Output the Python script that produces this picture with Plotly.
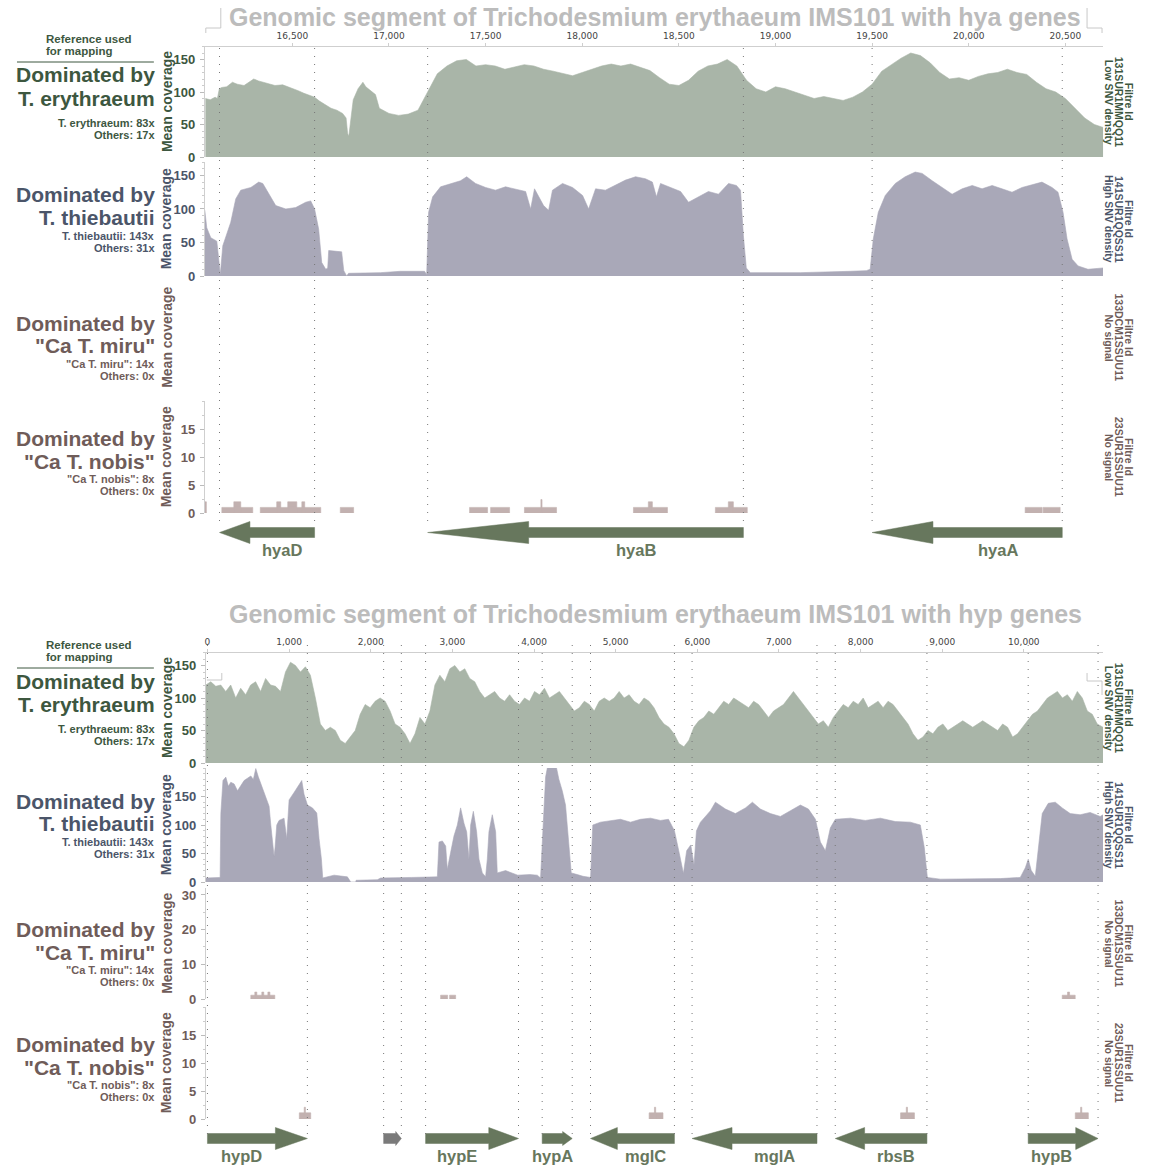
import plotly.graph_objects as go

W, H = 1153, 1166
H_FIG = 1174  # page is photographed slightly taller than the window and scaled back to 1166
FONT = "Liberation Sans, Arial, sans-serif"
TICKFONT = "DejaVu Sans, Liberation Sans, sans-serif"

C_ERY_FILL = "#a9b5a8"; C_ERY_TXT = "#3d573f"
C_THI_FILL = "#a9a8b8"; C_THI_TXT = "#4b5569"
C_CAN_FILL = "#c2b1b0"; C_CAN_TXT = "#6f5c59"
C_GENE = "#67775d"; C_GENE_GREY = "#7a7a7a"
C_TITLE = "#bcbcbc"

# ---------------- DATA ----------------
hya_ticks = [16500, 17000, 17500, 18000, 18500, 19000, 19500, 20000, 20500]
hyp_ticks = [0, 1000, 2000, 3000, 4000, 5000, 6000, 7000, 8000, 9000, 10000]

hya_gene_names = ["hyaD", "hyaB", "hyaA"]
hya_gene_start = [16123, 17200, 19500]
hya_gene_end = [16615, 18834, 20484]
hya_gene_strand = [-1, -1, -1]

hyp_gene_names = ["hypD", "", "hypE", "hypA", "mglC", "mglA", "rbsB", "hypB"]
hyp_gene_start = [0, 2158, 2672, 4100, 4692, 5936, 7690, 10053]
hyp_gene_end = [1224, 2375, 3810, 4468, 5720, 7466, 8813, 10909]
hyp_gene_strand = [1, 1, 1, 1, -1, -1, -1, 1]

# T. erythraeum coverage, hya segment
hya_ery_pos = [16050, 16075, 16100, 16112, 16122, 16135, 16160, 16190, 16215, 16250, 16275, 16300,
               16325, 16350, 16380, 16410, 16450, 16500, 16530, 16560, 16590, 16615, 16640, 16670,
               16700, 16730, 16760, 16778, 16786, 16792, 16800, 16815, 16840, 16865, 16880, 16900,
               16930, 16950, 17000, 17050, 17100, 17150, 17200, 17250, 17300, 17350, 17400, 17450,
               17500, 17550, 17600, 17650, 17700, 17750, 17800, 17850, 17900, 17950, 18000, 18050,
               18100, 18150, 18200, 18250, 18300, 18350, 18400, 18450, 18500, 18550, 18600, 18650,
               18700, 18750, 18800, 18850, 18900, 18950, 19000, 19050, 19100, 19150, 19200, 19250,
               19300, 19350, 19400, 19450, 19500, 19550, 19600, 19650, 19700, 19750, 19800, 19850,
               19900, 19950, 20000, 20050, 20100, 20150, 20200, 20250, 20300, 20350, 20400, 20450,
               20500, 20550, 20600, 20650, 20700]
hya_ery_cov = [90, 88, 92, 90, 105, 107, 108, 115, 112, 110, 115, 120,
               117, 115, 113, 110, 111, 106, 102, 98, 95, 92, 86, 80,
               75, 72, 67, 60, 36, 32, 55, 88, 105, 115, 108, 103,
               96, 75, 67, 64, 66, 72, 100, 128, 140, 148, 150, 140,
               142, 140, 135, 138, 142, 140, 135, 132, 128, 125, 130, 135,
               140, 143, 140, 143, 138, 133, 122, 112, 110, 118, 132, 140,
               143, 150, 140, 118, 105, 100, 108, 105, 100, 95, 90, 93,
               90, 87, 92, 100, 112, 132, 142, 152, 160, 156, 145, 130,
               120, 122, 118, 124, 128, 130, 135, 130, 127, 115, 105, 100,
               90, 75, 60, 50, 45]

# T. thiebautii coverage, hya segment
hya_thi_pos = [16047, 16057, 16078, 16109, 16119, 16127, 16140, 16181, 16207, 16233, 16285, 16326,
               16347, 16378, 16414, 16466, 16517, 16569, 16595, 16615, 16636, 16652, 16673, 16683,
               16688, 16755, 16766, 16781, 16791, 16957, 17060, 17184, 17195, 17205, 17226, 17267,
               17319, 17370, 17402, 17448, 17500, 17551, 17603, 17655, 17707, 17733, 17753, 17800,
               17826, 17846, 17898, 17950, 18002, 18033, 18069, 18120, 18172, 18224, 18276, 18327,
               18363, 18384, 18405, 18457, 18509, 18550, 18601, 18653, 18705, 18757, 18798, 18819,
               18834, 18849, 18870, 19128, 19387, 19470, 19490, 19506, 19532, 19568, 19620, 19671,
               19723, 19759, 19811, 19862, 19914, 19966, 20018, 20069, 20121, 20172, 20224, 20276,
               20328, 20379, 20431, 20462, 20488, 20509, 20535, 20566, 20617, 20695]
hya_thi_cov = [98, 72, 57, 52, 25, 2, 45, 80, 115, 128, 132, 140,
               138, 122, 105, 100, 102, 110, 112, 100, 70, 20, 10, 12,
               38, 36, 8, 0, 4, 5, 7, 7, 2, 95, 118, 133,
               138, 142, 148, 138, 132, 128, 133, 130, 126, 100, 130, 105,
               98, 128, 138, 132, 120, 100, 130, 128, 135, 143, 148, 145,
               140, 118, 138, 132, 126, 110, 118, 126, 122, 138, 135, 128,
               60, 12, 5, 5, 7, 8, 10, 55, 95, 120, 138, 148,
               155, 153, 142, 132, 122, 130, 135, 130, 135, 130, 125, 132,
               136, 140, 132, 125, 95, 55, 25, 15, 10, 12]

# "Ca T. nobis" coverage blocks, hya segment (start, end, height)
hya_nob_start = [16047, 16135, 16197, 16334, 16419, 16476, 16549, 16748, 17417, 17526, 17701, 17786,
                 18265, 18342, 18689, 18756, 20292, 20385]
hya_nob_end = [16055, 16295, 16233, 16647, 16440, 16523, 16564, 16817, 17510, 17624, 17867, 17792,
               18441, 18363, 18854, 18782, 20380, 20473]
hya_nob_cov = [2.0, 1.0, 2.0, 1.0, 2.0, 2.0, 2.0, 1.0, 1.0, 1.0, 1.0, 2.4,
               1.0, 2.0, 1.0, 2.0, 1.0, 1.0]

# T. erythraeum coverage, hyp segment (every ~61 bp from -20)
hyp_ery_pos = list(range(-20, 10960, 61)) + [10970]
hyp_ery_cov = [120, 125, 118, 120, 110, 120, 100, 115, 105, 120,
               125, 110, 130, 120, 118, 110, 140, 155, 150, 140,
               148, 135, 100, 60, 50, 55, 50, 35, 30, 40,
               50, 75, 90, 85, 95, 100, 95, 80, 60, 55,
               45, 30, 45, 70, 60, 80, 120, 135, 125, 145,
               150, 140, 145, 130, 125, 110, 100, 105, 110, 100,
               95, 105, 95, 90, 100, 95, 110, 105, 115, 100,
               105, 110, 100, 90, 80, 85, 95, 90, 80, 95,
               100, 95, 100, 110, 100, 105, 95, 90, 100, 95,
               85, 70, 60, 55, 45, 30, 25, 35, 55, 65,
               70, 80, 75, 85, 95, 90, 100, 95, 90, 85,
               95, 90, 80, 70, 80, 85, 90, 100, 110, 100,
               90, 80, 70, 60, 65, 55, 70, 80, 90, 85,
               95, 90, 100, 85, 90, 95, 85, 95, 90, 80,
               70, 60, 45, 35, 40, 50, 45, 55, 60, 50,
               55, 60, 65, 60, 55, 60, 65, 60, 55, 50,
               60, 55, 40, 45, 55, 65, 75, 80, 90, 100,
               105, 110, 100, 105, 95, 110, 100, 80, 75, 60,
               55]

# T. thiebautii coverage, hyp segment
hyp_thi_pos = [-20, 155, 164, 190, 225, 256, 286, 327, 368, 408, 449, 490, 531, 562, 592, 622, 653,
               714, 755, 776, 816, 828, 849,
               877, 938, 971, 1000, 1061, 1122, 1155, 1183, 1225, 1286, 1339, 1367, 1396, 1412,
               1551, 1714, 1746, 1755, 1816, 1820, 2081, 2122, 2500, 2816, 2836, 2877, 2918, 2938,
               2979, 3020, 3061, 3101, 3142, 3175, 3203, 3224, 3257, 3297, 3326, 3367, 3407, 3428,
               3448, 3489, 3530, 3550, 3652, 3800, 3950, 4040, 4080, 4113, 4142, 4163, 4276, 4305,
               4346, 4386, 4427, 4456, 4530, 4600, 4693, 4720, 4815, 4937, 5059, 5182, 5304, 5427,
               5549, 5647, 5720, 5780, 5830, 5870, 5920, 5960, 5990, 6039, 6161, 6222, 6345, 6467,
               6590, 6675, 6773, 6896, 7018, 7140, 7263, 7361, 7447, 7508, 7569, 7630, 7691, 7875,
               8058, 8242, 8426, 8609, 8732, 8781, 8818, 8977, 9711, 9956, 10018, 10054, 10091,
               10140, 10176, 10225, 10299, 10385, 10470, 10568, 10690, 10812, 10935, 10970]
hyp_thi_cov = [7, 8, 120, 178, 184, 168, 175, 172, 160, 170, 178, 182, 186, 180, 199, 185, 172,
               148, 133, 100, 45, 60, 100,
               108, 112, 76, 144, 157, 172, 178, 154, 135, 130, 121, 76, 40, 7,
               12, 9, 3, 0, 0, 3, 4, 7, 8, 9, 70, 72, 63, 22,
               52, 81, 100, 130, 103, 88, 40, 100, 124, 88, 40, 16, 9, 40,
               88, 118, 88, 16, 20, 12, 13, 12, 7, 100, 184, 200, 200, 180,
               160, 135, 70, 16, 13, 10, 8, 100, 105, 108, 110, 105, 110, 112,
               108, 110, 90, 50, 15, 55, 65, 30, 90, 105, 125, 140, 128, 120,
               130, 140, 128, 120, 115, 125, 135, 128, 110, 70, 55, 95, 110, 112,
               108, 112, 106, 105, 100, 60, 8, 5, 6, 8, 25, 40, 20,
               10, 60, 120, 138, 140, 130, 120, 118, 122, 115, 118]

# "Ca T. miru" coverage blocks, hyp segment
hyp_mir_start = [531, 580, 666, 740, 2856, 2966, 10470, 10535]
hyp_mir_end = [825, 605, 690, 765, 2942, 3040, 10629, 10560]
hyp_mir_cov = [1.1, 2.0, 2.0, 2.0, 1.1, 1.1, 1.1, 2.0]

# "Ca T. nobis" coverage blocks, hyp segment
hyp_nob_start = [1125, 1185, 5410, 5475, 8490, 8560, 10630, 10695]
hyp_nob_end = [1265, 1200, 5580, 5490, 8660, 8575, 10790, 10710]
hyp_nob_cov = [1.1, 2.1, 1.1, 2.1, 1.1, 2.1, 1.1, 2.1]

# ---------------- LAYOUT CONSTANTS ----------------
def px(x):
    return x / W


def py(y):
    return 1 - y / H


ROWS_PX = [(46.5, 157), (162, 276), (282, 393), (401, 513)]
GENE_PX = (518, 560)
GENE_RANGE = [-27.5, 14.5]

sections = [
    dict(title="Genomic segment of Trichodesmium erythaeum IMS101 with hya genes", ty=17,
         xr=[16047, 20695], xdom=(204, 1103), dy=0, ticks=hya_ticks,
         yr=[170, 170, 32, 20],
         genes=(hya_gene_names, hya_gene_start, hya_gene_end, hya_gene_strand),
         dots=(48, 524),
         data=[("area", hya_ery_pos, hya_ery_cov, C_ERY_FILL),
               ("area", hya_thi_pos, hya_thi_cov, C_THI_FILL),
               None,
               ("blocks", hya_nob_start, hya_nob_end, hya_nob_cov)]),
    dict(title="Genomic segment of Trichodesmium erythaeum IMS101 with hyp genes", ty=614,
         xr=[-20, 10970], xdom=(205, 1103), dy=606, ticks=hyp_ticks,
         yr=[170, 200, 32, 20],
         genes=(hyp_gene_names, hyp_gene_start, hyp_gene_end, hyp_gene_strand),
         dots=(645, 1134),
         data=[("area", hyp_ery_pos, hyp_ery_cov, C_ERY_FILL),
               ("area", hyp_thi_pos, hyp_thi_cov, C_THI_FILL),
               ("blocks", hyp_mir_start, hyp_mir_end, hyp_mir_cov),
               ("blocks", hyp_nob_start, hyp_nob_end, hyp_nob_cov)]),
]

ROW_TXT = [C_ERY_TXT, C_THI_TXT, C_CAN_TXT, C_CAN_TXT]
ROW_TICKS = [[0, 50, 100, 150], [0, 50, 100, 150], [0, 10, 20, 30], [0, 5, 10, 15]]
ROW_MINOR = [10, 10, 5, 2.5]
BIG, SMALL = 21, 11
ROW_LABELS = [
    [("Dominated by", BIG, 75), ("T. erythraeum", BIG, 98), ("T. erythraeum: 83x", SMALL, 123), ("Others: 17x", SMALL, 134.5)],
    [("Dominated by", BIG, 195), ("T. thiebautii", BIG, 217.5), ("T. thiebautii: 143x", SMALL, 236), ("Others: 31x", SMALL, 247.5)],
    [("Dominated by", BIG, 323.5), ("\"Ca T. miru\"", BIG, 346), ("\"Ca T. miru\": 14x", SMALL, 364), ("Others: 0x", SMALL, 376)],
    [("Dominated by", BIG, 438.5), ("\"Ca T. nobis\"", BIG, 461), ("\"Ca T. nobis\": 8x", SMALL, 479), ("Others: 0x", SMALL, 491)],
]
RIGHT_LABELS = [
    ["Filtre Id", "131SUR1MMQQ11", "Low SNV density"],
    ["Filtre Id", "141SUR1QQSS11", "High SNV density"],
    ["Filtre Id", "133DCM1SSUU11", "No signal"],
    ["Filtre Id", "23SUR1SSUU11", "No signal"],
]

fig = go.Figure()
layout = dict(width=W, height=H_FIG, margin=dict(l=0, r=0, t=0, b=0),
              paper_bgcolor="white", plot_bgcolor="white", showlegend=False)
annotations = []
shapes = []


def bfont(size, color):
    return dict(family=FONT, size=size, color=color, weight="bold")


for s, sec in enumerate(sections):
    dy = sec["dy"]
    x0, x1 = sec["xdom"]
    annotations.append(dict(x=px(655), y=py(sec["ty"]), xref="paper", yref="paper",
                            text=sec["title"], showarrow=False, xanchor="center", yanchor="middle",
                            font=bfont(25, C_TITLE)))
    annotations.append(dict(x=px(43), y=py(39 + dy), xref="paper", yref="paper", text="Reference used",
                            showarrow=False, xanchor="left", yanchor="middle", font=bfont(11.5, C_ERY_TXT)))
    annotations.append(dict(x=px(43), y=py(51 + dy), xref="paper", yref="paper", text="for mapping",
                            showarrow=False, xanchor="left", yanchor="middle", font=bfont(11.5, C_ERY_TXT)))
    shapes.append(dict(type="line", xref="paper", yref="paper", x0=px(16), x1=px(153),
                       y0=py(62 + dy), y1=py(62 + dy), line=dict(color=C_ERY_TXT, width=1)))

    for r in range(5):
        n = s * 5 + r + 1
        xa = "xaxis" if n == 1 else f"xaxis{n}"
        ya = "yaxis" if n == 1 else f"yaxis{n}"
        xs = "x" if n == 1 else f"x{n}"
        ys = "y" if n == 1 else f"y{n}"
        if r < 4:
            top, bot = ROWS_PX[r]
        else:
            top, bot = GENE_PX
        ydom = [py(bot + dy), py(top + dy)]
        xcfg = dict(domain=[px(x0), px(x1)], range=sec["xr"], anchor=ys, showgrid=False,
                    zeroline=False, fixedrange=True)
        if r == 0:
            xcfg.update(side="top", showline=True, linecolor="#cfcfcf", linewidth=1,
                        ticks="outside", ticklen=3, tickcolor="#cfcfcf", tickvals=sec["ticks"],
                        tickformat=",d", tickfont=dict(family=TICKFONT, size=9, color="#444"))
        else:
            xcfg.update(visible=False)
        layout[xa] = xcfg
        if r < 4:
            col = ROW_TXT[r]
            layout[ya] = dict(domain=ydom, range=[0, sec["yr"][r]], anchor=xs, showgrid=False,
                              zeroline=False, showline=True, linecolor="#cfcfcf", linewidth=1,
                              ticks="outside", ticklen=4, tickcolor="#bbbbbb",
                              tickvals=ROW_TICKS[r], ticklabelstandoff=2,
                              tickfont=bfont(13, col),
                              minor=dict(dtick=ROW_MINOR[r], ticks="outside", ticklen=2,
                                         tickcolor="#cccccc"))
            d = sec["data"][r]
            if d is not None and d[0] == "area":
                fig.add_trace(go.Scatter(x=d[1], y=d[2], mode="lines", fill="tozeroy",
                                         fillcolor=d[3], line=dict(color=d[3], width=0.6),
                                         xaxis=xs, yaxis=ys, hoverinfo="skip"))
            elif d is not None and d[0] == "blocks":
                bx, by = [], []
                for a, b, h in zip(d[1], d[2], d[3]):
                    bx += [a, a, b, b, a, None]
                    by += [0, h, h, 0, 0, None]
                fig.add_trace(go.Scatter(x=bx, y=by, mode="lines", fill="toself",
                                         fillcolor=C_CAN_FILL, line=dict(color=C_CAN_FILL, width=0.6),
                                         xaxis=xs, yaxis=ys, hoverinfo="skip"))
            for text, size, yy in ROW_LABELS[r]:
                annotations.append(dict(x=px(156), y=py(yy + dy), xref="paper", yref="paper",
                                        text=text, showarrow=False, xanchor="right", yanchor="middle",
                                        font=bfont(size, col)))
            yc = (top + bot) / 2 + dy
            annotations.append(dict(x=px(165.5), y=py(yc), xref="paper", yref="paper",
                                    text="Mean coverage", textangle=-90, showarrow=False,
                                    xanchor="center", yanchor="middle", font=bfont(14, col)))
            for k, t in enumerate(RIGHT_LABELS[r]):
                annotations.append(dict(x=px(1129 - 10 * k), y=py(yc), xref="paper", yref="paper",
                                        text=t, textangle=90, showarrow=False,
                                        xanchor="center", yanchor="middle", font=bfont(10.5, col)))
        else:
            layout[ya] = dict(domain=ydom, range=GENE_RANGE, anchor=xs, visible=False, fixedrange=True)
            names, starts, ends, strands = sec["genes"]
            bp_per_px = (sec["xr"][1] - sec["xr"][0]) / (x1 - x0)
            for name, a, b, st in zip(names, starts, ends, strands):
                L = b - a
                hl = 0.32 * L
                hh = min(11, max(7, 0.7 * hl / bp_per_px))
                sh = 5
                if st > 0:
                    gx = [a, b - hl, b - hl, b, b - hl, b - hl, a, a]
                    lab = (a + b - hl) / 2
                else:
                    gx = [b, a + hl, a + hl, a, a + hl, a + hl, b, b]
                    lab = (a + hl + b) / 2
                gy = [-sh, -sh, -hh, 0, hh, sh, sh, -sh]
                colr = C_GENE if name else C_GENE_GREY
                fig.add_trace(go.Scatter(x=gx, y=gy, mode="lines", fill="toself", fillcolor=colr,
                                         line=dict(color=colr, width=0.5), xaxis=xs, yaxis=ys,
                                         hoverinfo="skip"))
                if name:
                    annotations.append(dict(x=lab, y=-17.5, xref=xs, yref=ys, text=name, showarrow=False,
                                            xanchor="center", yanchor="middle", font=bfont(16.5, C_GENE)))
                for xv in (a, b):
                    shapes.append(dict(type="line", xref=xs, yref="paper", x0=xv, x1=xv,
                                       y0=py(sec["dots"][0]), y1=py(sec["dots"][1]),
                                       line=dict(color="#777777", width=1, dash="1px,7px"), layer="above"))

# decorative brackets
br = "#c8c8c8"
for seg in [((220, 8), (220, 28)), ((205, 28), (220, 28)), ((205, 28), (205, 33)),
            ((1087, 8), (1087, 28)), ((1087, 28), (1102, 28)), ((1102, 28), (1102, 33)),
            ((221, 673), (221, 680)), ((206, 680), (221, 680)),
            ((1087, 673), (1087, 681)), ((1087, 681), (1102, 681)), ((1102, 681), (1102, 695))]:
    (ax, ay), (bx_, by_) = seg
    shapes.append(dict(type="line", xref="paper", yref="paper", x0=px(ax), y0=py(ay), x1=px(bx_),
                       y1=py(by_), line=dict(color=br, width=1)))

layout["annotations"] = annotations
layout["shapes"] = shapes
fig.update_layout(**layout)

POST = ("var h=document.documentElement,b=document.body;"
        "h.style.margin='0';h.style.padding='0';h.style.overflow='hidden';"
        "b.style.margin='0';b.style.padding='0';b.style.overflow='hidden';"
        "document.querySelectorAll('.plotly-graph-div').forEach(function(e){e.style.overflow='hidden';});")
fig.write_html("out.html", config={"displayModeBar": False}, post_script=POST)
